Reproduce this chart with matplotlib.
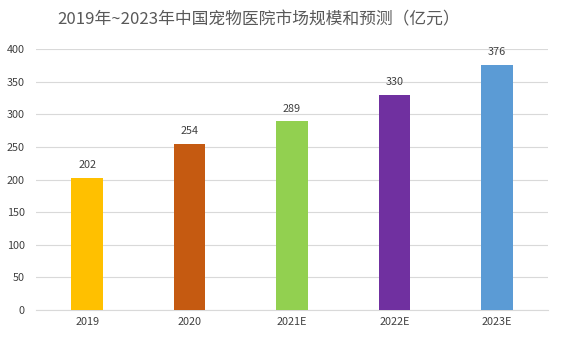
import matplotlib.pyplot as plt

plt.rcParams['font.family'] = ['Noto Sans CJK SC', 'DejaVu Sans']

years = ['2019', '2020', '2021E', '2022E', '2023E']
values = [202, 254, 289, 330, 376]
colors = ['#FFC000', '#C55A11', '#92D050', '#7030A0', '#5B9BD5']

fig = plt.figure(figsize=(5.62, 3.41), dpi=100)
ax = fig.add_axes([36/562, 1 - 310/341, 512/562, 261/341])

x = range(len(years))
bars = ax.bar(x, values, width=0.31, color=colors, zorder=3)
for xi, v in zip(x, values):
    ax.text(xi, v + 12, str(v), ha='center', va='bottom', fontsize=7.8, color='#404040')

ax.set_xlim(-0.5, len(years) - 0.5)
ax.set_ylim(0, 400)
ax.set_yticks(range(0, 401, 50))
ax.set_xticks(list(x))
ax.set_xticklabels(years)
ax.yaxis.grid(True, color='#D9D9D9', linewidth=0.8, zorder=0)
ax.tick_params(axis='both', length=0, labelsize=7.8, labelcolor='#404040')
ax.tick_params(axis='y', pad=8)
ax.tick_params(axis='x', pad=5)
for s in ['top', 'right', 'left']:
    ax.spines[s].set_visible(False)
ax.spines['bottom'].set_color('#D9D9D9')

fig.text(259/562, 1 - 20/341, '2019年~2023年中国宠物医院市场规模和预测（亿元）',
         ha='center', va='center', fontsize=12.1, color='#595959')

fig.savefig('out.png', dpi=100)
